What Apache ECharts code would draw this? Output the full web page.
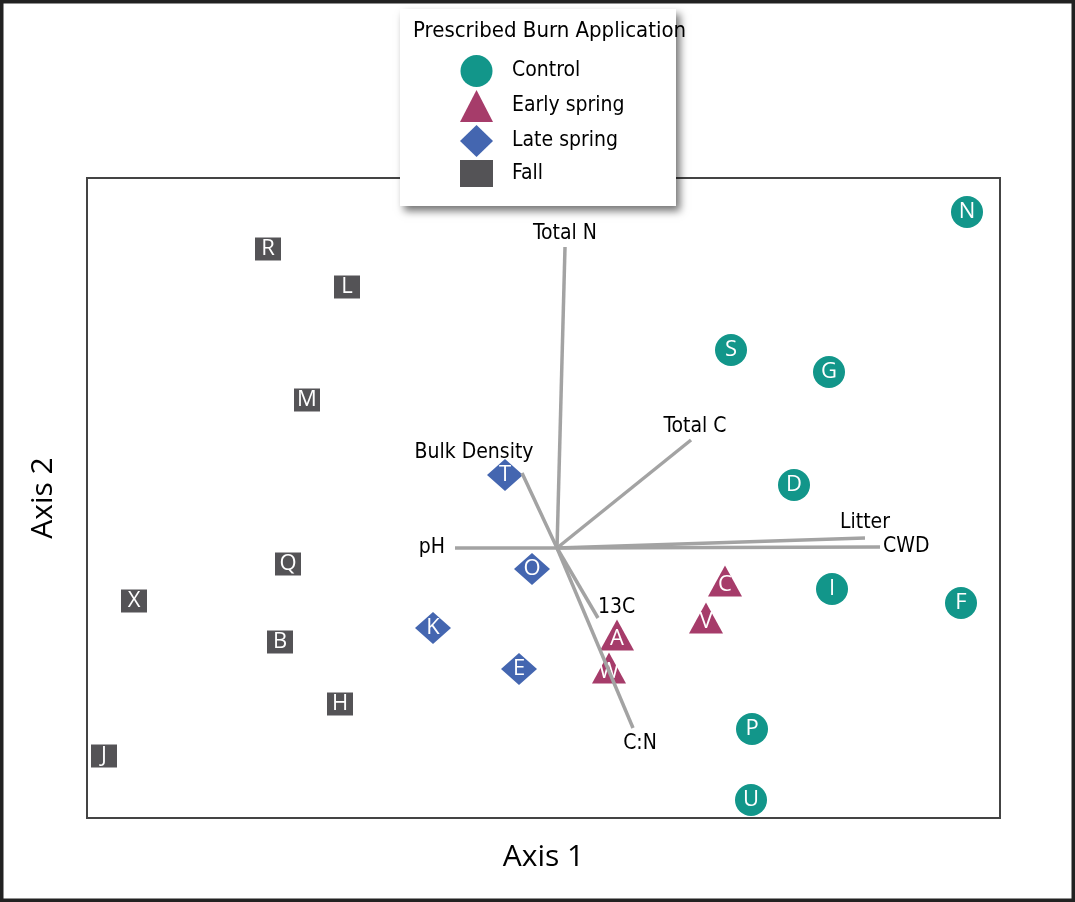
<!DOCTYPE html>
<html>
<head>
<meta charset="utf-8">
<script src="https://cdn.jsdelivr.net/npm/echarts@6/dist/echarts.min.js"></script>
<style>
  html, body { margin: 0; padding: 0; background: #fff; }
  #chart { width: 1075px; height: 902px; }
</style>
</head>
<body>
<div id="chart"></div>
<script>
// ordination scores (origin = where the vectors start)
const controlNames = ['N', 'S', 'G', 'D', 'I', 'F', 'P', 'U']
const controlX = [4.10, 1.74, 2.72, 2.37, 2.75, 4.04, 1.95, 1.94]
const controlY = [3.36, 1.98, 1.76, 0.63, -0.41, -0.55, -1.81, -2.52]

const earlyNames = ['C', 'V', 'A', 'W']
const earlyX = [1.68, 1.49, 0.60, 0.52]
const earlyY = [-0.33, -0.70, -0.87, -1.20]

const lateNames = ['T', 'O', 'K', 'E']
const lateX = [-0.52, -0.25, -1.24, -0.38]
const lateY = [0.73, -0.21, -0.80, -1.21]

const fallNames = ['R', 'L', 'M', 'Q', 'X', 'B', 'H', 'J']
const fallX = [-2.89, -2.10, -2.50, -2.69, -4.23, -2.77, -2.17, -4.53]
const fallY = [2.99, 2.61, 1.48, -0.16, -0.53, -0.94, -1.56, -2.08]

// environmental vectors (end points)
const vectorNames = ['Total N', 'Total C', 'Bulk Density', 'pH', 'Litter', 'CWD', '13C', 'C:N']
const vectorX = [0.08, 1.34, -0.35, -1.02, 3.08, 3.23, 0.41, 0.76]
const vectorY = [3.01, 1.08, 0.75, 0.00, 0.10, 0.01, -0.70, -1.80]

const narrow = '"Liberation Sans Narrow", "DejaVu Sans Condensed", sans-serif'
const letterFont = '"Open Sans", "Noto Sans", sans-serif'

function pts(names, xs, ys) {
  return names.map((n, i) => ({ name: n, value: [xs[i], ys[i]] }))
}

// where each vector label sits relative to the arrow tip
const vectorLabelPos = {
  'Total N': { position: 'top', distance: 3 },
  'Total C': { position: 'top', distance: 3, offset: [4, 0] },
  'Bulk Density': { position: 'top', distance: 3, offset: [-48, -7] },
  'pH': { position: 'left', distance: 10 },
  'Litter': { position: 'top', distance: 5 },
  'CWD': { position: 'right', distance: 3 },
  '13C': { position: 'right', distance: 0, offset: [0, -10] },
  'C:N': { position: 'bottom', distance: 5, offset: [7, 0] }
}

const letterLabel = {
  show: true,
  position: 'inside',
  formatter: '{b}',
  color: '#fff',
  fontSize: 22,
  fontFamily: letterFont
}

const chart = echarts.init(document.getElementById('chart'))
const option = {
  animation: false,
  title: {
    text: 'Prescribed Burn Application',
    left: 408,
    top: 15,
    z: 20,
    textStyle: { fontSize: 22, fontWeight: 'normal', color: '#000', fontFamily: narrow }
  },
  legend: {
    orient: 'vertical',
    left: 455,
    top: 50,
    z: 20,
    itemWidth: 33,
    itemHeight: 32,
    itemGap: 3,
    selectedMode: false,
    textStyle: { fontSize: 21, color: '#000', fontFamily: narrow, padding: [0, 0, 0, 14] },
    data: [
      { name: 'Control', icon: 'circle' },
      { name: 'Early spring', icon: 'triangle' },
      { name: 'Late spring', icon: 'diamond' },
      { name: 'Fall', icon: 'path://M0,0h28v23h-28z' }
    ]
  },
  graphic: [
    {
      type: 'rect',
      z: 10,
      shape: { x: 400, y: 9, width: 276, height: 197 },
      style: {
        fill: '#fff',
        shadowBlur: 8,
        shadowColor: 'rgba(0,0,0,0.55)',
        shadowOffsetX: 4,
        shadowOffsetY: 5
      }
    },
    {
      type: 'rect',
      z: 30,
      silent: true,
      shape: { x: 0, y: 0, width: 1075, height: 902 },
      style: { fill: 'none', stroke: '#222', lineWidth: 7 }
    }
  ],
  grid: {
    left: 87,
    right: 75,
    top: 178,
    bottom: 84,
    show: true,
    borderColor: '#444',
    borderWidth: 2
  },
  xAxis: {
    type: 'value',
    min: -4.70,
    max: 4.43,
    name: 'Axis 1',
    nameLocation: 'middle',
    nameGap: 24,
    nameTextStyle: { fontSize: 30, color: '#000', fontFamily: letterFont },
    axisLine: { show: false },
    axisTick: { show: false },
    axisLabel: { show: false },
    splitLine: { show: false }
  },
  yAxis: {
    type: 'value',
    min: -2.70,
    max: 3.70,
    name: 'Axis 2',
    nameLocation: 'middle',
    nameGap: 29,
    nameTextStyle: { fontSize: 30, color: '#000', fontFamily: letterFont },
    axisLine: { show: false },
    axisTick: { show: false },
    axisLabel: { show: false },
    splitLine: { show: false }
  },
  series: [
    {
      name: 'Control',
      type: 'scatter',
      symbol: 'circle',
      symbolSize: 32,
      itemStyle: { color: '#12968a', opacity: 1 },
      label: letterLabel,
      data: pts(controlNames, controlX, controlY)
    },
    {
      name: 'Early spring',
      type: 'scatter',
      symbol: 'triangle',
      symbolSize: [34, 31],
      itemStyle: { color: '#a63c6a', opacity: 1 },
      label: Object.assign({}, letterLabel, { offset: [0, 4] }),
      data: pts(earlyNames, earlyX, earlyY)
    },
    {
      name: 'Late spring',
      type: 'scatter',
      symbol: 'diamond',
      symbolSize: [36, 32],
      itemStyle: { color: '#4466b0', opacity: 1 },
      label: letterLabel,
      data: pts(lateNames, lateX, lateY)
    },
    {
      name: 'Fall',
      type: 'scatter',
      symbol: 'rect',
      symbolSize: [26, 23],
      itemStyle: { color: '#545356', opacity: 1 },
      label: letterLabel,
      data: pts(fallNames, fallX, fallY)
    },
    {
      name: 'vectors',
      type: 'lines',
      coordinateSystem: 'cartesian2d',
      silent: true,
      z: 3,
      lineStyle: { color: '#a3a3a3', width: 3.5, opacity: 1 },
      data: vectorNames.map((n, i) => ({ coords: [[0, 0], [vectorX[i], vectorY[i]]] }))
    },
    {
      name: 'vectorLabels',
      type: 'scatter',
      symbolSize: 0,
      silent: true,
      z: 4,
      itemStyle: { opacity: 1 },
      label: {
        show: true,
        formatter: '{b}',
        color: '#000',
        fontSize: 21,
        fontFamily: narrow
      },
      data: vectorNames.map((n, i) => ({
        name: n,
        value: [vectorX[i], vectorY[i]],
        label: vectorLabelPos[n]
      }))
    }
  ]
}
chart.setOption(option)
</script>
</body>
</html>
